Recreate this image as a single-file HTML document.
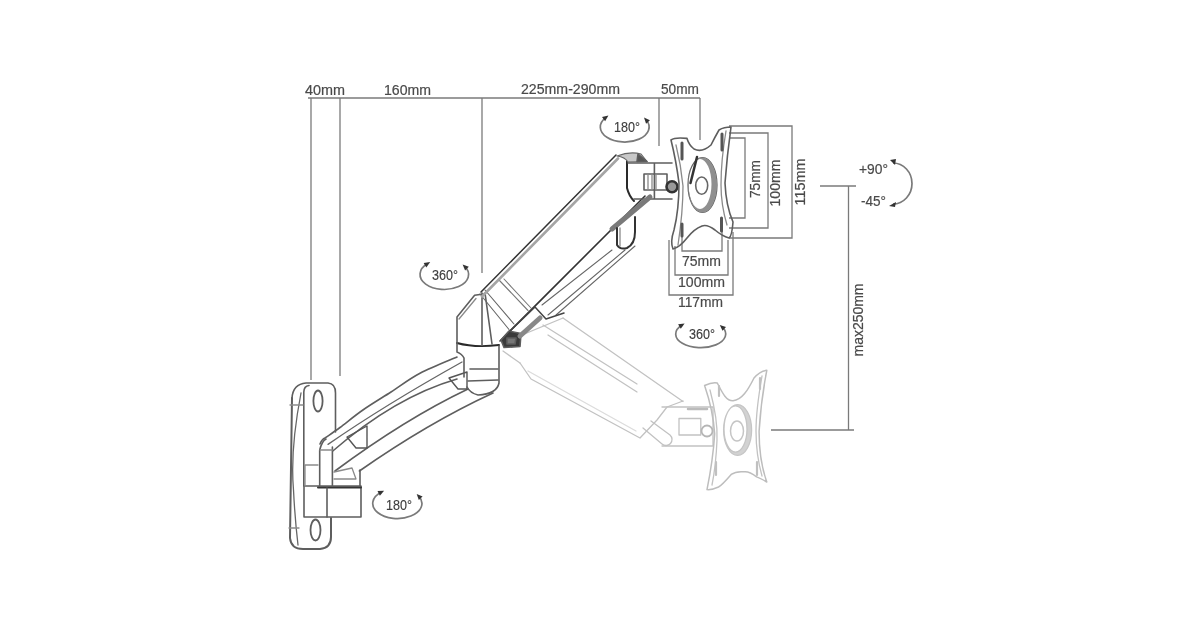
<!DOCTYPE html>
<html><head><meta charset="utf-8">
<style>
html,body{margin:0;padding:0;background:#fff;width:1200px;height:630px;overflow:hidden}
svg{display:block;will-change:transform}
.dm{stroke:#7a7a7a;stroke-width:1.3;fill:none}
.tx{fill:#4a4a4a;font-family:"Liberation Sans",sans-serif;font-size:14px;stroke:#4a4a4a;stroke-width:0.2}
.k{stroke:#5e5e5e;stroke-width:1.6;fill:none;stroke-linejoin:round;stroke-linecap:round}
.kl{stroke:#8a8a8a;stroke-width:1.3;fill:none;stroke-linejoin:round;stroke-linecap:round}
.kd{stroke:#2a2a2a;stroke-width:2;fill:none;stroke-linejoin:round;stroke-linecap:round}
.f{stroke:#c2c2c2;stroke-width:1.3;fill:none;stroke-linejoin:round;stroke-linecap:round}
.ar{stroke:#7a7a7a;stroke-width:1.7;fill:none}
</style></head>
<body>
<svg width="1200" height="630" viewBox="0 0 1200 630">
<!-- top dimension line -->
<g class="dm">
<path d="M308 98 H700"/>
<path d="M311 98 V380"/>
<path d="M340 98 V376"/>
<path d="M482 98 V273"/>
<path d="M659 98 V146"/>
<path d="M700 98 V140"/>
<!-- right dims -->
<path d="M729 126 H792 V238 H729"/>
<path d="M729 133 H768 V228 H729"/>
<path d="M729 138 H745 V218 H729"/>
<!-- bottom dims -->
<path d="M682 226 V251 H722 V226"/>
<path d="M675 246 V275 H728 V240"/>
<path d="M669 240 V295 H733 V232"/>
<!-- max250 -->
<path d="M820 186 H856"/>
<path d="M848.5 186 V430"/>
<path d="M771 430 H854"/>
</g>
<g class="tx">
<text x="305" y="95" textLength="40" lengthAdjust="spacingAndGlyphs">40mm</text>
<text x="384" y="95" textLength="47" lengthAdjust="spacingAndGlyphs">160mm</text>
<text x="521" y="94" textLength="99" lengthAdjust="spacingAndGlyphs">225mm-290mm</text>
<text x="661" y="94" textLength="38" lengthAdjust="spacingAndGlyphs">50mm</text>
<text x="682" y="265.5" textLength="39" lengthAdjust="spacingAndGlyphs">75mm</text>
<text x="678" y="287" textLength="47" lengthAdjust="spacingAndGlyphs">100mm</text>
<text x="678" y="306.5" textLength="45" lengthAdjust="spacingAndGlyphs">117mm</text>
<text transform="translate(760,179) rotate(-90)" text-anchor="middle" textLength="38" lengthAdjust="spacingAndGlyphs">75mm</text>
<text transform="translate(780,183) rotate(-90)" text-anchor="middle" textLength="47" lengthAdjust="spacingAndGlyphs">100mm</text>
<text transform="translate(805,182) rotate(-90)" text-anchor="middle" textLength="47" lengthAdjust="spacingAndGlyphs">115mm</text>
<text transform="translate(863,320) rotate(-90)" text-anchor="middle" textLength="73" lengthAdjust="spacingAndGlyphs">max250mm</text>
<text x="859" y="174" textLength="29" lengthAdjust="spacingAndGlyphs">+90°</text>
<text x="861" y="205.5" textLength="25" lengthAdjust="spacingAndGlyphs">-45°</text>
<text x="614" y="132" textLength="26" lengthAdjust="spacingAndGlyphs" style="stroke:#444;stroke-width:0.15;fill:#3d3d3d">180°</text>
<text x="432" y="280" textLength="26" lengthAdjust="spacingAndGlyphs" style="stroke:#444;stroke-width:0.15;fill:#3d3d3d">360°</text>
<text x="386" y="510" textLength="26" lengthAdjust="spacingAndGlyphs" style="stroke:#444;stroke-width:0.15;fill:#3d3d3d">180°</text>
<text x="689" y="339" textLength="26" lengthAdjust="spacingAndGlyphs" style="stroke:#444;stroke-width:0.15;fill:#3d3d3d">360°</text>
</g>

<!-- ===== faded lower arm & plate ===== -->
<g class="f">
<path d="M563 318 L683 401.5"/>
<path d="M543 325 L637 384 M548 335 L637 392"/>
<path d="M503 351 L520 363 M510 340 L563 318"/>
<path d="M520 363 L531 379 L640 438 L657 420 L667 407 L683 401"/>
<path d="M528 371 L636 431" style="stroke:#dcdcdc"/>
<path d="M643 428 L662 444 M651 421 L670 435 A5.5 5.5 0 0 1 662 444"/>
<path d="M662 407 H713 M662 446 H713 M713 407 V446"/>
<path d="M688 409 H707" style="stroke:#bbb;stroke-width:2.5"/>
<path d="M679 418.5 H700.8 V435 H679 Z"/>
<circle cx="707" cy="431" r="5.5" style="stroke:#b5b5b5;stroke-width:1.8"/>
<path d="M704.6 385.5 Q712 382 717.3 383 C722 392 726 401 733 400.8 C742 400 748 390 754 378 Q760 371 766.8 370.3 Q761 400 759.1 431.2 Q759 460 766.8 482 Q760 478 756.6 476.9 Q749 471 743.9 471.8 Q736 471 731.2 474.4 Q722 485 718.5 487 Q712 490 707 489.6 Q713 460 714.7 433.8 Q713 410 704.6 385.5 Z" style="stroke:#bdbdbd;stroke-width:1.5"/>
<path d="M710 390 Q718 420 717 440 Q716 465 712 485 M762 376 Q756 410 756 431 Q756 455 762 476"/>
<path d="M723.6 430 a14 25.4 0 1 0 28 0 a14 25.4 0 1 0 -28 0 Z M724 429 a11.5 23 0 1 0 23 0 a11.5 23 0 1 0 -23 0 Z" fill="#d2d2d2" fill-rule="evenodd" stroke="#c5c5c5"/>
<ellipse cx="737" cy="431" rx="6.5" ry="10" style="stroke:#c5c5c5;stroke-width:1.5"/>
<path d="M719 386 V396 M760 378 V389 M716 462 V475 M757 462 V475" style="stroke:#c0c0c0;stroke-width:2.2"/>
</g>
<!-- ===== wall plate ===== -->
<g class="k">
<path d="M292 398 Q293 384 306 383 H328 Q335.5 383.5 335.5 393 V432"/>
<path d="M292 398 L290 538 Q291 549 303 549 H320 Q331 548 331 537 V518" style="stroke-width:2"/>
<path d="M303.8 392 Q304 386 309 385.5 M303.8 392 V486"/>
<path d="M301 393 Q290 450 293.5 490 Q295 520 298 545" style="stroke:#666;stroke-width:1.3"/>
<path d="M290 405 H303 M289 528 H299" class="kl"/>
<ellipse cx="318" cy="401" rx="4.6" ry="10.5" style="stroke-width:1.8"/>
<ellipse cx="315.5" cy="530" rx="5" ry="10.5" style="stroke-width:1.8"/>
</g>
<!-- hinge block -->
<g class="k">
<path d="M304 486 H361 V517 H304 Z"/>
<path d="M318 487.5 H361" style="stroke-width:2;stroke:#333"/>
<path d="M327 488 V517"/>
<path d="M319.7 450 Q322 441 326 439 M319.7 450 V486 M332.4 447 V486 M360 470 V486"/>
<path d="M305 465 H318 M305 465 V486" class="kl"/>
</g>
<!-- lower arm -->
<g class="k">
<path d="M320 444 Q322 439 325 438  C327.5 436.2 333.7 432.2 340 427.5 C346.3 422.8 354.4 415.9 362.9 410 C371.4 404.1 381.5 398.1 391 392 C400.5 385.9 409.0 379.1 420 373.3 C431.0 367.5 450.8 359.7 457 357"/>
<path d="M328 444.4 Q385 405 462 362" class="kl" style="stroke:#666"/>
<path d="M332.8 451 Q395 397 457 379"/>
<path d="M335 471 Q405 419 468 389"/>
<path d="M359.4 471 Q428 423 493 393"/>
<path d="M347 437 L367 426 L367 448 L356 448 Z" style="stroke:#555;stroke-width:1.4"/>
<path d="M449 378 L467 372 L467 389 L458 389 Z" style="stroke:#555;stroke-width:1.4"/>
<path d="M334 472 L352 468 L356 479 H334" class="kl"/><path d="M320 450 H332.4" class="kl"/>
</g>
<!-- elbow -->
<g class="k">
<path d="M457 343 Q475 348 499 345" class="kd"/>
<path d="M457 343 V352 Q462 354 464 358 V377"/>
<path d="M499 346 V383 Q497 394 478 395 Q470 393 467 387"/>
<path d="M470 369 H498 M468 381 L498 380"/>
</g>
<!-- shoulder -->
<g class="k">
<path d="M457 343 V317 L474.6 295.2 L483.5 294"/>
<path d="M459 319 L476 298.5" class="kl"/>
<path d="M482 293 V345"/>
<path d="M485 293 L492 344"/>
<path d="M480 294 L509 329.5 M485 290 L514 324" style="stroke:#666;stroke-width:1.1"/>
<path d="M499 280 L528 310.5 M504 279 L531 308" style="stroke:#777;stroke-width:1.1"/>
</g>
<!-- upper arm -->
<g class="k">
<path d="M481 292 L616 155" style="stroke:#333;stroke-width:1.5"/>
<path d="M482 296.5 L618 158.5" style="stroke-width:2.6;stroke:#a5a5a5"/>
<path d="M627 161 V188 Q629 196 634 201" class="kd"/>
<path d="M500 341 L645 196" style="stroke:#333;stroke-width:1.6"/>
<path d="M542 305 L612 250 M548 315 L625 250 M556 315 L635 246" style="stroke:#666;stroke-width:1.1"/>
<path d="M501 340 L509 331 L521 333.5 L520 346.5 L504 347.5 Z" fill="#3a3a3a"/><path d="M507 338 L516 338 L515 344 L507 344 Z" fill="#777"/>
<path d="M510 331 L535 307 L546 319 L564 313" style="stroke:#444;stroke-width:1.5"/>
<path d="M520 336 L540 318" style="stroke:#888;stroke-width:5"/>
</g>
<!-- tilt head upper -->
<g class="k">
<path d="M628 163 H672 M634 199 H672 M654.4 163 V199"/>
<path d="M644 174 H667 V190 H644 Z" style="stroke-width:1.6"/>
<circle cx="672" cy="186.7" r="5.5" style="stroke-width:2.6;stroke:#333;fill:#999"/><path d="M648 175 V190 M652 175 V190 M656 175 V190" class="kl"/>
<path d="M612 229 L650 197" style="stroke:#7a7a7a;stroke-width:5"/>
<path d="M617 228 V245 Q620 250 627 248 Q635 244 635 232 V217" style="stroke-width:2;stroke:#333"/>
<path d="M620 228 V246" class="kl"/>
<path d="M617 156 Q630 151 641 154 L647 161.5 L628 162 Q625 157 617 156 Z" style="fill:#c8c8c8;stroke:#666;stroke-width:1.2"/><path d="M638 154 L647 161.5 L637 161.5 Z" fill="#555"/>
</g>
<!-- upper plate -->
<g class="k">
<path d="M671 140 Q675 137 687 138.4 Q689 145 694 149 Q702 153 711 145 Q715 137 719 130 Q724 127 731 127 Q727 156 725 183 Q726 206 733 222 Q732 236 729 238 Q722 236 715 230 Q707 224 702 226 Q694 229 687 238 Q680 247 673 249 Q670 242 674 230 Q679 210 679 183 Q676 160 671 140 Z"/>
<path d="M676 145 Q681 165 683 186 Q683 212 678 245" class="kl"/>
<path d="M726 131 Q721 160 721 185 Q721 205 727 225" class="kl"/>
<ellipse cx="702.5" cy="185" rx="14.5" ry="27.5" style="stroke-width:1.2"/>
<path d="M688 185 a14.5 27.5 0 1 0 29 0 a14.5 27.5 0 1 0 -29 0 Z M688.5 184 a11.5 25 0 1 0 23 0 a11.5 25 0 1 0 -23 0 Z" fill="#8f8f8f" fill-rule="evenodd" stroke="none"/>
<ellipse cx="701.7" cy="185.6" rx="6" ry="8.6" style="stroke:#666;stroke-width:1.6"/>
<path d="M682 143 V159 M722 134 V150 M682 224 V236 M721.5 218 V231" style="stroke-width:3;stroke:#555"/>
<path d="M690.5 183 L697 157" style="stroke-width:2.5;stroke:#333"/>
</g>
<!-- rotation arrows -->
<g class="ar">
<path d="M606.0 117.4 A24.4 15 0 1 0 646.0 119.7"/>
<path d="M427.6 263.6 A24.3 15 0 1 0 464.8 266.4"/>
<path d="M381.4 492.1 A24.6 15 0 1 0 418.7 496.1"/>
<path d="M682.0 325.0 A25 13.6 0 1 0 722.0 326.9"/>
<path d="M893 163 A19 20.5 0 0 1 893 204"/>
</g>
<g fill="#333">
<path d="M608.4 115.6 L605.1 121.2 L602.0 117.0 Z"/>
<path d="M644.0 117.5 L649.9 120.2 L646.1 123.7 Z"/>
<path d="M430.2 262.1 L426.3 267.4 L423.7 262.9 Z"/>
<path d="M462.6 264.4 L468.8 266.7 L465.1 270.4 Z"/>
<path d="M384.1 490.7 L379.9 495.7 L377.5 491.1 Z"/>
<path d="M416.7 493.9 L422.6 496.5 L418.8 500.1 Z"/>
<path d="M684.6 323.4 L680.8 328.8 L678.1 324.3 Z"/>
<path d="M719.8 324.9 L726.0 326.9 L722.5 330.8 Z"/>
<path d="M890 160 l6 -1 l-1 6 z"/>
<path d="M889 206 l7 -4 l-1 5 z"/>
</g>
</svg>
</body></html>
